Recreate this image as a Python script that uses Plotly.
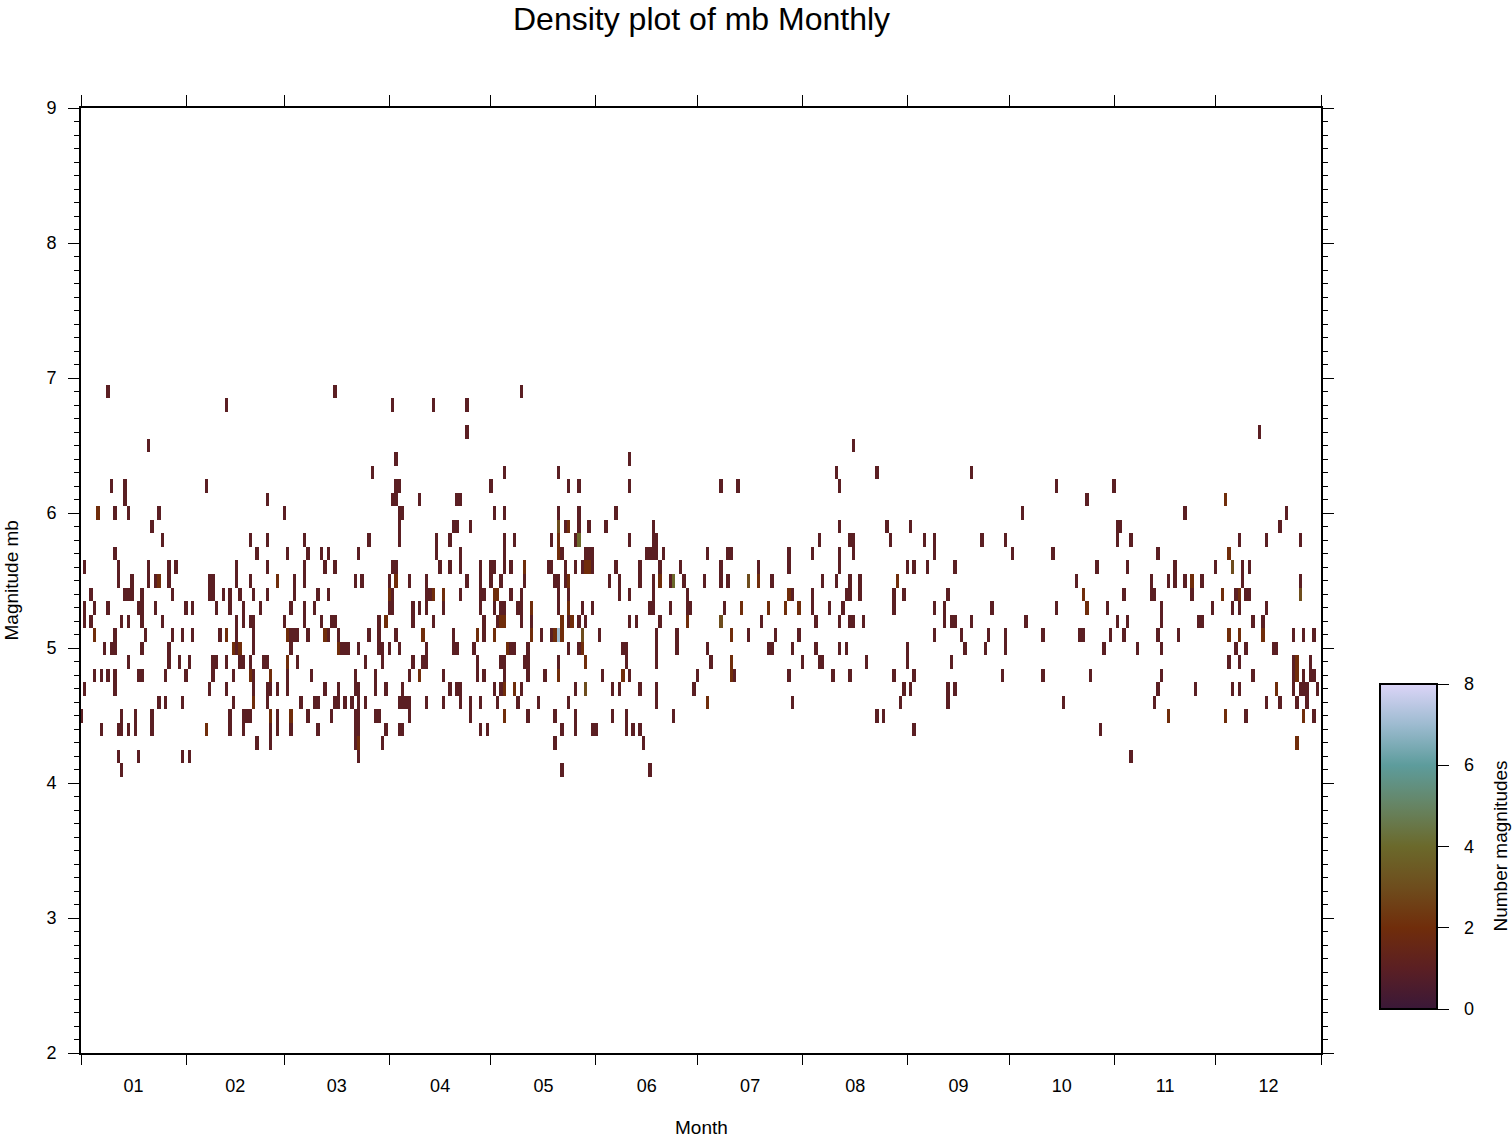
import plotly.graph_objects as go

# ---------------- data ----------------
TITLE = "Density plot of mb Monthly"
MONTH_LABELS = ["01", "02", "03", "04", "05", "06", "07", "08", "09", "10", "11", "12"]
MONTH_BOUNDS = [0, 31, 60, 91, 121, 152, 182, 213, 244, 274, 305, 335, 366]  # day index
Y_TICKS = [2, 3, 4, 5, 6, 7, 8, 9]
CBAR_TICKS = [0, 2, 4, 6, 8]

# day-of-year bins holding exactly one magnitude, per magnitude bin
days_m69 = [8, 75, 130]
days_m68 = [43, 92, 104, 114]
days_m66 = [114, 348]
days_m65 = [20, 228]
days_m64 = [93, 162]
days_m63 = [86, 125, 141, 223, 235, 263]
days_m62 = [9, 13, 37, 93, 94, 121, 144, 147, 162, 189, 194, 224, 288, 305]
days_m61 = [13, 55, 92, 93, 100, 111, 112, 297]
days_m60 = [10, 14, 23, 60, 94, 95, 122, 125, 141, 147, 158, 278, 326, 356]
days_m59 = [21, 94, 110, 111, 115, 143, 147, 150, 155, 169, 224, 238, 245, 306, 307, 354]
days_m58 = [24, 50, 55, 66, 85, 94, 105, 109, 125, 128, 139, 146, 162, 169, 170, 218, 227,
            228, 239, 249, 252, 266, 273, 306, 310, 342, 350, 360]
days_m57 = [10, 52, 61, 67, 71, 73, 82, 105, 112, 125, 142, 149, 150, 151, 167, 168, 169, 170,
            172, 185, 191, 192, 209, 216, 224, 228, 252, 275, 287, 318]
days_m56 = [1, 11, 20, 26, 28, 46, 55, 66, 72, 75, 92, 93, 106, 109, 112, 118, 121, 122, 125,
            127, 138, 139, 143, 146, 148, 151, 158, 165, 171, 177, 189, 200, 209, 224, 244,
            246, 250, 258, 300, 309, 323, 335, 343, 345]
days_m55 = [11, 15, 20, 22, 26, 38, 39, 46, 50, 63, 66, 81, 83, 91, 97, 102, 114, 118, 121, 124,
            131, 140, 141, 143, 156, 159, 165, 169, 174, 178, 184, 189, 191, 204, 219, 223,
            227, 230, 294, 316, 321, 323, 326, 331, 343, 360]
days_m54 = [3, 13, 14, 15, 18, 27, 38, 39, 42, 44, 47, 51, 55, 63, 70, 73, 92, 102, 103, 112,
            118, 119, 127, 130, 141, 144, 159, 162, 169, 179, 210, 216, 226, 227, 230, 240,
            243, 256, 308, 316, 317, 328, 341, 344, 345]
days_m53 = [1, 4, 8, 17, 18, 22, 31, 33, 40, 44, 48, 53, 62, 66, 69, 91, 92, 98, 100, 102, 107,
            118, 122, 124, 125, 129, 130, 141, 148, 151, 168, 169, 174, 179, 180, 190, 216,
            221, 225, 240, 252, 255, 269, 288, 303, 319, 334, 340, 342, 350]
days_m52 = [1, 3, 12, 14, 18, 24, 46, 48, 50, 51, 60, 66, 71, 74, 75, 88, 98, 104, 119, 123,
            130, 133, 144, 147, 149, 162, 164, 171, 201, 217, 224, 227, 228, 231, 255, 257,
            258, 263, 279, 306, 309, 319, 330, 331, 346, 349]
days_m51 = [10, 19, 27, 30, 33, 41, 46, 51, 62, 63, 64, 67, 73, 76, 85, 88, 93, 110, 119, 136,
            139, 153, 170, 176, 197, 205, 212, 252, 260, 268, 273, 284, 295, 296, 304, 308,
            318, 324, 358, 361, 364]
days_m50 = [7, 9, 10, 18, 26, 46, 51, 62, 77, 78, 79, 82, 88, 89, 91, 94, 102, 110, 111, 116,
            127, 128, 132, 144, 147, 160, 161, 170, 176, 185, 203, 204, 210, 217, 224, 226,
            244, 261, 267, 273, 302, 312, 319, 341, 344, 352, 353]
days_m49 = [14, 26, 29, 32, 39, 40, 43, 47, 48, 50, 54, 55, 64, 84, 89, 98, 101, 102, 117, 124,
            125, 131, 132, 141, 161, 170, 186, 213, 218, 219, 232, 244, 257, 339, 342, 358, 363]
days_m48 = [4, 6, 8, 10, 17, 18, 25, 31, 39, 45, 51, 61, 68, 81, 87, 97, 107, 117, 119, 125,
            132, 137, 154, 162, 182, 193, 209, 222, 227, 240, 246, 272, 284, 298, 319, 346,
            358, 361, 363, 364]
days_m47 = [1, 10, 38, 43, 51, 55, 56, 58, 61, 72, 76, 81, 82, 87, 90, 95, 109, 111, 112, 122,
            124, 130, 146, 157, 159, 165, 170, 181, 243, 245, 256, 258, 318, 329, 340, 342,
            358, 360, 361, 362, 365]
days_m46 = [23, 25, 30, 45, 55, 65, 69, 70, 75, 76, 78, 80, 82, 84, 94, 95, 96, 97, 102, 107,
            112, 115, 118, 123, 129, 135, 144, 170, 210, 242, 256, 290, 317, 350, 354, 359, 362]
days_m45 = [0, 12, 16, 21, 44, 48, 49, 50, 58, 67, 74, 81, 82, 87, 88, 97, 115, 132, 140, 146,
            157, 161, 175, 235, 237, 344, 364]
days_m44 = [6, 11, 12, 14, 16, 21, 44, 48, 56, 58, 62, 70, 81, 82, 90, 94, 95, 118, 120, 142,
            146, 151, 152, 161, 163, 165, 246, 301]
days_m43 = [52, 56, 81, 89, 140, 166]
days_m42 = [11, 17, 30, 32, 82, 310]
days_m41 = [12, 142, 168]

single_rows = [
    (6.9, days_m69), (6.8, days_m68), (6.6, days_m66), (6.5, days_m65), (6.4, days_m64),
    (6.3, days_m63), (6.2, days_m62), (6.1, days_m61), (6.0, days_m60), (5.9, days_m59),
    (5.8, days_m58), (5.7, days_m57), (5.6, days_m56), (5.5, days_m55), (5.4, days_m54),
    (5.3, days_m53), (5.2, days_m52), (5.1, days_m51), (5.0, days_m50), (4.9, days_m49),
    (4.8, days_m48), (4.7, days_m47), (4.6, days_m46), (4.5, days_m45), (4.4, days_m44),
    (4.3, days_m43), (4.2, days_m42), (4.1, days_m41),
]

# bins holding more than one magnitude
multi_days = [338, 5, 144, 141, 141, 147, 141, 339, 131, 149, 150, 340,
              23, 58, 93, 144, 171, 200, 241, 328, 197, 175,
              91, 104, 107, 122, 123, 209, 296, 337, 342, 360,
              133, 144, 195, 203, 208, 212, 297,
              90, 124, 125, 142, 145, 179, 189,
              4, 43, 61, 72, 101, 117, 122, 133, 140, 142, 192, 339, 342, 349, 148, 141,
              45, 47, 76, 126, 148,
              61, 149, 192, 359,
              50, 56, 100, 141, 160, 192, 359,
              125, 128, 353, 149,
              51, 185,
              56, 62, 125, 321, 338, 361,
              37,
              82, 359]
multi_mags = [6.1, 6.0, 5.9, 5.9, 5.8, 5.8, 5.7, 5.7, 5.6, 5.6, 5.6, 5.6,
              5.5, 5.5, 5.5, 5.5, 5.5, 5.5, 5.5, 5.5, 5.5, 5.5,
              5.4, 5.4, 5.4, 5.4, 5.4, 5.4, 5.4, 5.4, 5.4, 5.4,
              5.3, 5.3, 5.3, 5.3, 5.3, 5.3, 5.3,
              5.2, 5.2, 5.2, 5.2, 5.2, 5.2, 5.2,
              5.1, 5.1, 5.1, 5.1, 5.1, 5.1, 5.1, 5.1, 5.1, 5.1, 5.1, 5.1, 5.1, 5.1, 5.1, 5.1,
              5.0, 5.0, 5.0, 5.0, 5.0,
              4.9, 4.9, 4.9, 4.9,
              4.8, 4.8, 4.8, 4.8, 4.8, 4.8, 4.8,
              4.7, 4.7, 4.7, 4.7,
              4.6, 4.6,
              4.5, 4.5, 4.5, 4.5, 4.5, 4.5,
              4.4,
              4.3, 4.3]
multi_counts = [2, 2, 2, 3, 2, 4, 2, 2, 2, 2, 2, 3,
                2, 2, 2, 2, 2, 2, 2, 2, 3, 4,
                2, 2, 2, 2, 2, 2, 2, 2, 2, 3,
                2, 2, 2, 2, 2, 2, 2,
                2, 2, 2, 2, 2, 2, 3,
                2, 2, 2, 2, 2, 2, 2, 2, 2, 2, 2, 2, 2, 2, 3, 7,
                2, 2, 2, 2, 2,
                2, 2, 2, 2,
                2, 2, 2, 2, 2, 2, 2,
                2, 2, 2, 3,
                2, 2,
                2, 2, 2, 2, 2, 2,
                2,
                2, 2]

# ---------------- build the grid ----------------
n_days = MONTH_BOUNDS[-1] + 1
x_days = list(range(n_days))
mag_bins = [round(4.0 + 0.1 * i, 1) for i in range(31)]
row_of = {m: i for i, m in enumerate(mag_bins)}
z = [[None] * n_days for _ in mag_bins]
for mag, days in single_rows:
    for d in days:
        z[row_of[round(mag, 1)]][d] = 1
for d, mag, c in zip(multi_days, multi_mags, multi_counts):
    z[row_of[round(mag, 1)]][d] = c

colorscale = [
    [0.0, "#3a1838"], [0.125, "#5b1f23"], [0.25, "#702d0b"], [0.375, "#6e4d1d"],
    [0.5, "#6b692b"], [0.625, "#668463"], [0.75, "#5d9c9c"], [0.875, "#9dbbd0"],
    [1.0, "#dcd5f8"],
]

FONT = "Liberation Sans, Arial, Helvetica, sans-serif"
W, H = 1512, 1138
L, R, T, B = 81, 1321, 108, 1053  # plot area in pixels
pw, ph = R - L, B - T
CB_LEFT, CB_TOP, CB_BOTTOM = 1380, 684, 1009
CB_THICK = 57

fig = go.Figure()
fig.add_trace(go.Heatmap(
    x=x_days, y=mag_bins, z=z, zmin=CBAR_TICKS[0], zmax=CBAR_TICKS[-1], colorscale=colorscale,
    hoverongaps=False,
    colorbar=dict(
        x=(CB_LEFT - L) / pw, xanchor="left", xpad=0,
        y=(B - (CB_TOP + CB_BOTTOM) / 2) / ph, yanchor="middle", ypad=0,
        len=(CB_BOTTOM - CB_TOP) / ph, lenmode="fraction",
        thickness=CB_THICK, outlinewidth=2, outlinecolor="black",
        tickvals=CBAR_TICKS, ticks="outside", ticklen=11, tickwidth=1, tickcolor="black",
        showticklabels=False,
    ),
))

month_centers = [(MONTH_BOUNDS[i] + MONTH_BOUNDS[i + 1]) / 2 for i in range(12)]
xr = [MONTH_BOUNDS[0], MONTH_BOUNDS[-1]]
yr = [Y_TICKS[0], Y_TICKS[-1]]

annotations = [
    dict(text=TITLE, xref="paper", yref="paper", x=0.5, y=(B - 19) / ph,
         xanchor="center", yanchor="middle", showarrow=False,
         font=dict(family=FONT, size=32, color="black")),
    dict(text="Month", xref="paper", yref="paper", x=0.5, y=(B - 1127) / ph,
         xanchor="center", yanchor="middle", showarrow=False,
         font=dict(family=FONT, size=19, color="black")),
    dict(text="Magnitude mb", xref="paper", yref="paper", x=(11 - L) / pw, y=0.5,
         xanchor="center", yanchor="middle", textangle=-90, showarrow=False,
         font=dict(family=FONT, size=19, color="black")),
    dict(text="Number magnitudes", xref="paper", yref="paper", x=(1500 - L) / pw,
         y=(B - (CB_TOP + CB_BOTTOM) / 2) / ph,
         xanchor="center", yanchor="middle", textangle=-90, showarrow=False,
         font=dict(family=FONT, size=19, color="black")),
]
# colour-bar tick labels, placed along the bar from the tick values
for v in CBAR_TICKS:
    frac = (v - CBAR_TICKS[0]) / (CBAR_TICKS[-1] - CBAR_TICKS[0])
    ypix = CB_BOTTOM - frac * (CB_BOTTOM - CB_TOP)
    annotations.append(dict(text=str(v), xref="paper", yref="paper",
                            x=(1462 - L) / pw, y=(B - ypix) / ph,
                            xanchor="left", yanchor="middle", showarrow=False,
                            font=dict(family=FONT, size=18, color="black")))

fig.update_layout(
    width=W, height=H,
    margin=dict(l=L, r=W - R, t=T, b=H - B, pad=0),
    paper_bgcolor="white", plot_bgcolor="white",
    font=dict(family=FONT, size=18, color="black"),
    showlegend=False,
    xaxis=dict(range=xr, tickvals=month_centers, ticktext=MONTH_LABELS, ticks="",
               ticklabelstandoff=15, showgrid=False, zeroline=False,
               showline=True, linewidth=2, linecolor="black",
               tickfont=dict(size=18)),
    xaxis3=dict(range=xr, overlaying="x", side="bottom", anchor="y",
                tickvals=MONTH_BOUNDS, ticks="outside", ticklen=11, tickwidth=1,
                tickcolor="black", showticklabels=False, showgrid=False, zeroline=False,
                showline=False),
    xaxis2=dict(range=xr, overlaying="x", side="top", anchor="y",
                tickvals=MONTH_BOUNDS, ticks="outside", ticklen=11, tickwidth=1,
                tickcolor="black", showticklabels=False, showgrid=False, zeroline=False,
                showline=True, linewidth=2, linecolor="black"),
    yaxis=dict(range=yr, tickvals=Y_TICKS, ticks="outside", ticklen=11, tickwidth=1,
               tickcolor="black", showgrid=False, zeroline=False,
               showline=True, linewidth=2, linecolor="black",
               ticklabelstandoff=8, tickfont=dict(size=18),
               minor=dict(dtick=0.1, ticks="outside", ticklen=5, tickwidth=1,
                          tickcolor="black", showgrid=False)),
    yaxis2=dict(range=yr, overlaying="y", side="right", anchor="x",
                tickvals=Y_TICKS, ticks="outside", ticklen=11, tickwidth=1,
                tickcolor="black", showticklabels=False, showgrid=False, zeroline=False,
                showline=True, linewidth=2, linecolor="black",
                minor=dict(dtick=0.1, ticks="outside", ticklen=5, tickwidth=1,
                           tickcolor="black", showgrid=False)),
    annotations=annotations,
)

# empty traces so the overlay axes are drawn
fig.add_trace(go.Scatter(x=[None], y=[None], xaxis="x2", yaxis="y", showlegend=False, hoverinfo="skip"))
fig.add_trace(go.Scatter(x=[None], y=[None], xaxis="x3", yaxis="y2", showlegend=False, hoverinfo="skip"))

fig.write_html("out.html", config={"displayModeBar": False},
               post_script="document.body.style.margin='0';document.body.style.overflow='hidden';")
